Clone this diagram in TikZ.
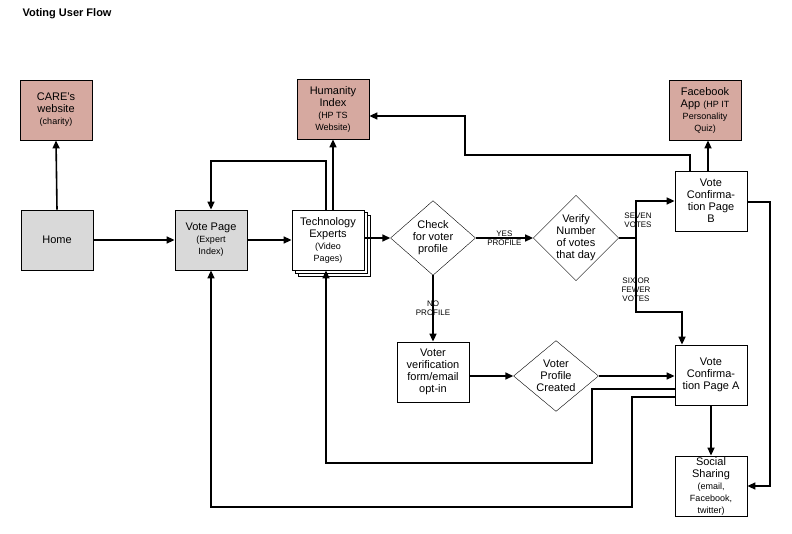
\documentclass[tikz,border=0pt]{standalone}
\usepackage{fontspec}
\setmainfont{Liberation Sans}
\usetikzlibrary{shapes.geometric,arrows.meta}
\definecolor{pinkbox}{HTML}{D6A9A0}
\definecolor{greybox}{HTML}{D9D9D9}
\tikzset{
  page/.style={draw, thick, minimum width=72pt, minimum height=60pt, align=center, font=\fontsize{11}{12}\selectfont, inner sep=1pt},
  decision/.style={draw, diamond, aspect=1, minimum width=85pt, align=center, font=\fontsize{11}{12}\selectfont, inner sep=0pt},
  flow/.style={line width=1.6pt, -{Triangle[length=8pt,width=7pt]}},
  tag/.style={font=\fontsize{8}{9}\selectfont, align=center},
  small/.style={font=\fontsize{8}{9}\selectfont}
}
\begin{document}
\begin{tikzpicture}[x=1pt,y=-1pt]
            \useasboundingbox (0,0) rectangle (792,534);
            %title
            \node[anchor=west, font=\bfseries\fontsize{11}{12}\selectfont] (title) at (19,14) {Voting User Flow};

            %top row
            \node[page, fill=pinkbox] (care) at (56,110) {CARE's\\website\\{\small(charity)}};

            \node[page, fill=pinkbox] (humanity) at (333,109) {Humanity\\Index\\{\small(HP TS}\\{\small Website)}};

            \node[page, fill=pinkbox] (facebook) at (705,110) {Facebook\\App {\small(HP IT}\\{\small Personality}\\{\small Quiz)}};

            %middle row
            \node[page, fill=greybox] (home) at (57,240) {Home};

            \node[page, fill=greybox] (vote) at (211,240) {Vote Page\\{\small(Expert}\\{\small Index)}};

            \draw[thick, fill=white] (298,215) rectangle (370,276);
            \draw[thick, fill=white] (295,212) rectangle (367,273);
            \node[page, fill=white] (tech) at (328,240) {Technology\\Experts\\{\small(Video}\\{\small Pages)}};

            \node[decision] (check) at (433,238) {Check\\for voter\\profile};

            \node[decision] (verify) at (576,238) {Verify\\Number\\of votes\\that day};

            \node[page] (confb) at (711,201) {Vote\\Confirma-\\tion Page\\B};

            %lower rows
            \node[page] (form) at (433,372) {Voter\\verification\\form/email\\opt-in};

            \node[decision] (created) at (556,376) {Voter\\Profile\\Created};

            \node[page] (confa) at (711,375) {Vote\\Confirma-\\tion Page A};

            \node[page] (social) at (711,486) {Social\\Sharing\\{\small(email,}\\{\small Facebook,}\\{\small twitter)}};

            %connectors
            \draw[flow] (home.north) -- (care.south);

            \draw[flow] (home.east) -- (vote.west);

            \draw[flow] (vote.east) -- (tech.west);

            \draw[flow] (tech.north -| 326,0) |- (211,161) -- (vote.north);

            \draw[flow] (tech.north -| 333,0) -- (humanity.south);

            \draw[flow] (tech.east |- check.west) -- (check.west);

            \draw[flow] (check.east) -- (verify.west) node[tag, midway] {YES\\PROFILE};

            \draw[flow] (check.south) -- (form.north) node[tag, midway] {NO\\PROFILE};

            \draw[flow] (verify.east) -- (636,238) |- (confb.west |- 0,201);

            \draw[flow] (636,238) |- (682,312) -- (confa.north -| 682,0);

            \node[tag] (seven) at (638,220) {SEVEN\\VOTES};

            \node[tag] (fewer) at (636,290) {SIX OR\\FEWER\\VOTES};

            \draw[flow] (form.east |- created.west) -- (created.west);

            \draw[flow] (created.east) -- (confa.west |- created.east);

            \draw[flow] (confa.west |- 0,389) -- (592,389) |- (326,463) -- (tech.south -| 326,0);

            \draw[flow] (confa.west |- 0,397) -- (632,397) |- (211,507) -- (vote.south);

            \draw[flow] (confa.south) -- (social.north);

            \draw[flow] (confb.east |- 0,202) -- (770,202) |- (social.east |- 0,486);

            \draw[flow] (confb.north -| 690,0) |- (465,155) |- (humanity.east |- 0,116);

            \draw[flow] (confb.north -| 708,0) -- (facebook.south -| 708,0);
\end{tikzpicture}
\end{document}
